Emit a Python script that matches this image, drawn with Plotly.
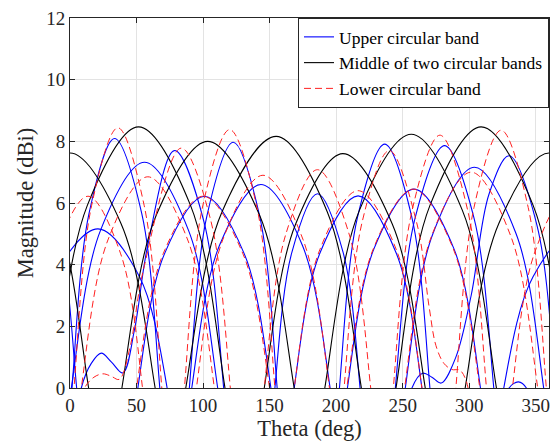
import plotly.graph_objects as go

# ---- Upper circular band (blue) : arch control points ----
upper_theta = [
    [-39.5, -34, -12, 21, 52.2, 73, 78.2],
    [320.5, 326, 348, 381, 412.2, 433, 438.2],
    [-1.7, 1.5, 14.3, 33.5, 53.9, 67.5, 70.9],
    [-4.5, 1, 23, 56, 89, 111, 116.5],
    [4, 8.5, 16, 23.5, 31, 39.75, 48.5, 58.5, 78.5, 100.7, 115.5, 119.2],
    [46, 51, 71, 101, 131, 151, 156],
    [86.4, 89.7, 102.9, 122.7, 142.5, 155.7, 159],
    [86.3, 91.5, 112.3, 143.5, 174.7, 195.5, 200.7],
    [150.8, 154, 166.8, 186, 205.2, 218, 221.2],
    [163.7, 168.5, 187.7, 216.5, 245.3, 264.5, 269.3],
    [199.1, 202.5, 216.1, 236.5, 256.9, 270.5, 273.9],
    [203.5, 208.5, 228.5, 258.5, 288.5, 308.5, 313.5],
    [240.8, 244.5, 259.3, 281.5, 303.7, 318.5, 322.2],
    [327, 330, 337, 343, 346],
    [246.8, 252, 272.8, 304, 335.2, 356, 361.2],
    [254, 257, 265, 272, 279, 290, 301.5, 315, 330, 351, 365, 368.5],
    [-30, -9, 5, 8.5],
]
upper_mag = [
    [-2, 0, 3.61, 5.16, 3.61, 0, -2],
    [-2, 0, 3.61, 5.16, 3.61, 0, -2],
    [-2, 0, 5.66, 8.09, 5.66, 0, -2],
    [-2, 0, 5.12, 7.32, 5.12, 0, -2],
    [-1.5, 0, 0.8, 1.13, 0.85, 0.49, 1.9, 4.64, 7.7, 5.39, 0, -2],
    [-2, 0, 4.35, 6.22, 4.35, 0, -2],
    [-2, 0, 5.58, 7.97, 5.58, 0, -2],
    [-2, 0, 4.62, 6.6, 4.62, 0, -2],
    [-2, 0, 4.41, 6.3, 4.41, 0, -2],
    [-2, 0, 4.36, 6.23, 4.36, 0, -2],
    [-2, 0, 5.54, 7.91, 5.54, 0, -2],
    [-2, 0, 4.52, 6.45, 4.52, 0, -2],
    [-2, 0, 5.5, 7.86, 5.5, 0, -2],
    [-0.6, 0, 0.2, 0, -0.6],
    [-2, 0, 5.01, 7.16, 5.01, 0, -2],
    [-0.8, 0, 0.48, 0.35, 0.16, 1.0, 3.0, 6.3, 7.53, 5.27, 0, -2],
    [7.53, 5.27, 0, -2],
]

# ---- Middle of two circular bands (black) ----
middle_theta = [
    [-69.3, -63, -37.8, 0, 38.4, 64, 70.4],
    [-18.9, -12.5, 13.1, 51.5, 90.5, 116.5, 123],
    [32.5, 39, 64.8, 103.5, 142.5, 168.5, 175],
    [80.2, 87, 114.2, 155, 193.4, 219, 225.4],
    [140.1, 146, 169.6, 205, 242.2, 267, 273.2],
    [185, 191.5, 217.5, 256.5, 294.9, 320.5, 326.9],
    [238.6, 245, 270.6, 309, 348, 374, 380.5],
    [290.7, 297, 322.2, 360, 398.4, 424, 430.4],
    [-121.4, -115, -89.4, -51, -12, 14, 20.5],
]
middle_mag = [
    [-2, 0, 5.33, 7.62, 5.33, 0, -2],
    [-2, 0, 5.93, 8.47, 5.93, 0, -2],
    [-2, 0, 5.6, 8.0, 5.6, 0, -2],
    [-2, 0, 5.71, 8.16, 5.71, 0, -2],
    [-2, 0, 5.32, 7.6, 5.32, 0, -2],
    [-2, 0, 5.76, 8.23, 5.76, 0, -2],
    [-2, 0, 5.93, 8.47, 5.93, 0, -2],
    [-2, 0, 5.33, 7.62, 5.33, 0, -2],
    [-2, 0, 5.93, 8.47, 5.93, 0, -2],
]

# ---- Lower circular band (red dashed) ----
lower_theta = [
    [-31.6, -27.5, -11.1, 13.5, 38.1, 54.5, 58.6],
    [328.4, 332.5, 348.9, 373.5, 398.1, 414.5, 418.6],
    [-0.3, 3, 16.2, 36, 55.8, 69, 72.3],
    [3.5, 8.5, 28.5, 58.5, 88.5, 108.5, 113.5],
    [7, 11, 18, 24.75, 31, 37, 45, 55, 83.5, 105.7, 120.5, 124.2],
    [45, 50, 70, 100, 130, 150, 155],
    [82.6, 86, 99.6, 120, 140.4, 154, 157.4],
    [90, 95, 115, 145, 175, 195, 200],
    [142, 146, 162, 186, 210, 226, 230],
    [163.7, 168.5, 187.7, 216.5, 245.3, 264.5, 269.3],
    [202.6, 206, 219.6, 240, 260.4, 270, 275, 281, 287, 293, 298, 301],
    [203, 208, 228, 258, 288, 308, 313],
    [239.5, 243, 257, 278, 299, 313, 316.5],
    [246.5, 251.5, 271.5, 301.5, 331.5, 351.5, 356.5],
    [286.6, 290, 303.6, 324, 344.4, 358, 361.4],
]
lower_mag = [
    [-2, 0, 4.35, 6.22, 4.35, 0, -2],
    [-2, 0, 4.35, 6.22, 4.35, 0, -2],
    [-2, 0, 5.91, 8.44, 5.91, 0, -2],
    [-2, 0, 4.8, 6.85, 4.8, 0, -2],
    [-1, 0, 0.35, 0.46, 0.38, 0.28, 1.3, 3.8, 7.78, 5.45, 0, -2],
    [-2, 0, 4.35, 6.22, 4.35, 0, -2],
    [-2, 0, 5.87, 8.38, 5.87, 0, -2],
    [-2, 0, 4.83, 6.9, 4.83, 0, -2],
    [-2, 0, 4.96, 7.08, 4.96, 0, -2],
    [-2, 0, 4.48, 6.4, 4.48, 0, -2],
    [-2, 0, 5.39, 7.7, 5.39, 2.6, 1.38, 0.8, 0.6, 0.58, 0.2, -0.6],
    [-2, 0, 4.52, 6.45, 4.52, 0, -2],
    [-2, 0, 5.74, 8.2, 5.74, 0, -2],
    [-2, 0, 4.9, 7.0, 4.9, 0, -2],
    [-2, 0, 5.85, 8.36, 5.85, 0, -2],
]

series_names = ["Upper circular band", "Middle of two circular bands", "Lower circular band"]
tick_x = [0, 50, 100, 150, 200, 250, 300, 350]
tick_y = [0, 2, 4, 6, 8, 10, 12]


def join(arches_x, arches_y):
    xs, ys = [], []
    for ax, ay in zip(arches_x, arches_y):
        xs += list(ax) + [None]
        ys += list(ay) + [None]
    return xs, ys


FONT = "Liberation Serif, Times New Roman, serif"
fig = go.Figure()
styles = [
    dict(color="#0000FF", width=1.1),
    dict(color="#000000", width=1.1),
    dict(color="#FF2020", width=1.0, dash="7px,4px"),
]
for name, (tx, ty), st in zip(
    series_names,
    [(upper_theta, upper_mag), (middle_theta, middle_mag), (lower_theta, lower_mag)],
    styles,
):
    xs, ys = join(tx, ty)
    fig.add_trace(go.Scatter(x=xs, y=ys, mode="lines", name=name,
                             line=dict(shape="spline", smoothing=1.0, **st),
                             connectgaps=False))

axis_common = dict(
    showline=True, linecolor="#262626", linewidth=1, mirror="ticks",
    ticks="inside", ticklen=5, tickcolor="#262626",
    showgrid=True, gridcolor="#e3e3e3", gridwidth=1, zeroline=False,
    tickfont=dict(family=FONT, size=19, color="#262626"),
)
fig.update_xaxes(range=[0, 360], tickvals=tick_x,
                 title=dict(text="Theta (deg)", font=dict(family=FONT, size=22.5, color="#262626"), standoff=4),
                 **axis_common)
fig.update_yaxes(range=[0, 12], tickvals=tick_y,
                 title=dict(text="Magnitude (dBi)", font=dict(family=FONT, size=22.5, color="#262626"), standoff=6),
                 **axis_common)

fig.update_layout(
    width=551, height=446,
    margin=dict(l=70, r=2, t=18, b=58),
    paper_bgcolor="white", plot_bgcolor="white",
    showlegend=True,
    legend=dict(x=1, y=1, xanchor="right", yanchor="top",
                bgcolor="white", bordercolor="#262626", borderwidth=1,
                font=dict(family=FONT, size=17.5, color="#000000"),
                tracegroupgap=0, itemwidth=30),
)

fig.write_html("out.html", config={"displayModeBar": False},
               post_script="document.body.style.margin='0';document.body.style.overflow='hidden';")
